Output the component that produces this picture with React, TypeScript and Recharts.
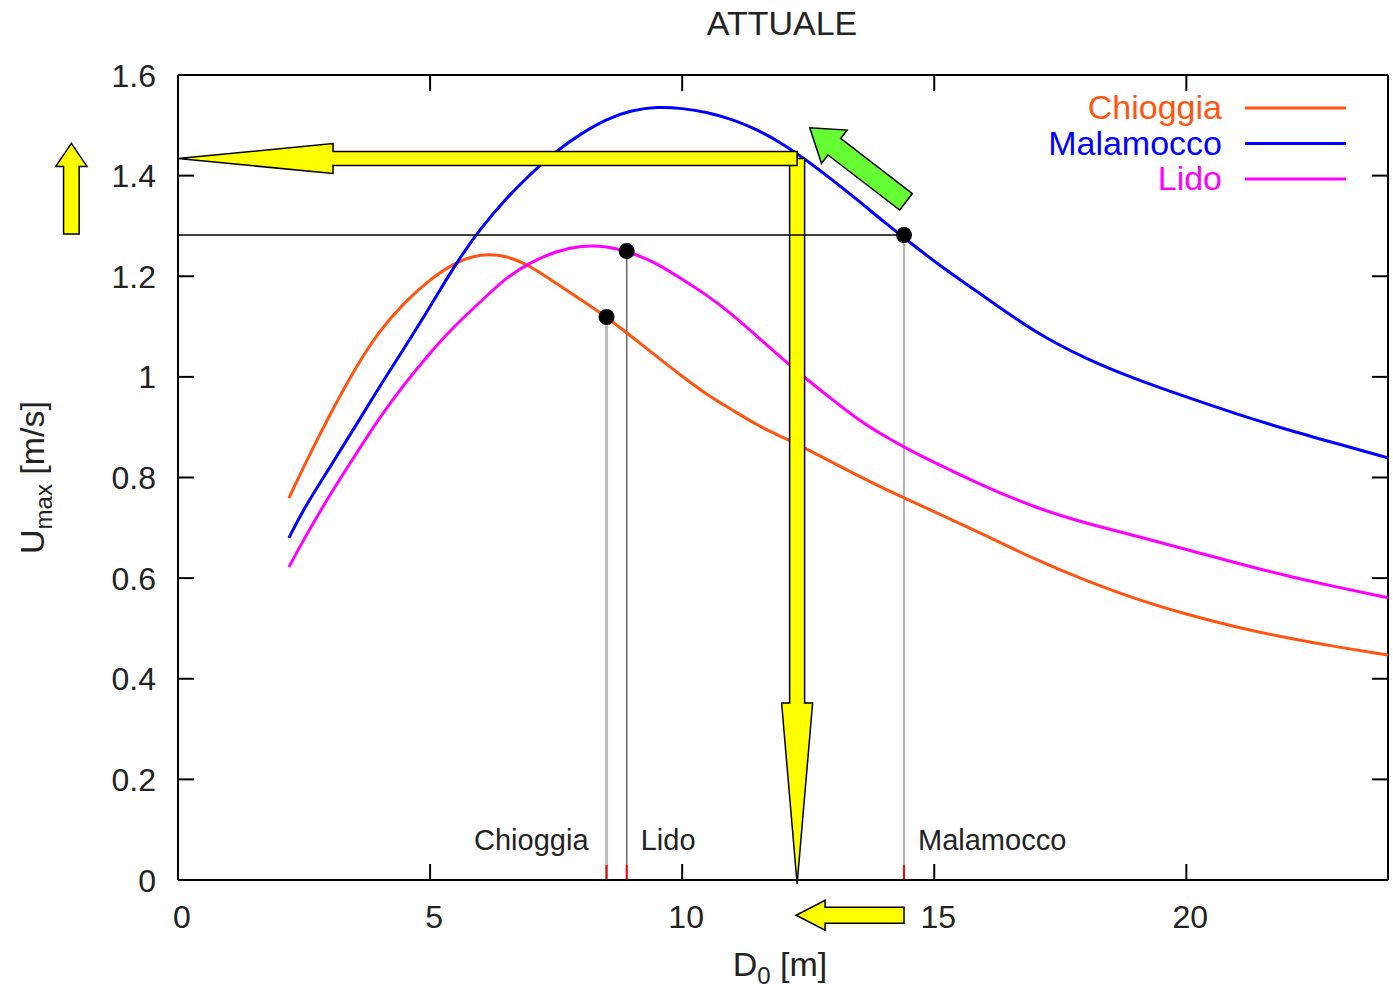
import React from 'react';
import { LineChart, Line, XAxis, YAxis, ReferenceLine, ReferenceDot, Legend } from 'recharts';

// D0 [m] sampling grid and the three Umax curves [m/s]
const D0 = [2.2, 2.5, 3, 3.5, 4, 4.5, 5, 5.5, 6, 6.5, 7, 7.5, 8, 8.5, 9, 9.5, 10, 10.5, 11, 11.5, 12, 12.5, 13, 13.5, 14, 14.5, 15, 16, 17, 18, 19, 20, 21, 22, 23, 24];
const chioggia = [0.759, 0.823, 0.923, 1.015, 1.093, 1.149, 1.194, 1.228, 1.245, 1.242, 1.22, 1.186, 1.153, 1.119, 1.08, 1.04, 1.001, 0.964, 0.934, 0.903, 0.88, 0.855, 0.829, 0.803, 0.778, 0.755, 0.732, 0.686, 0.637, 0.595, 0.558, 0.528, 0.502, 0.481, 0.463, 0.447];
const malamocco = [0.68, 0.739, 0.818, 0.899, 0.981, 1.059, 1.139, 1.224, 1.295, 1.354, 1.404, 1.449, 1.484, 1.513, 1.53, 1.537, 1.534, 1.526, 1.512, 1.491, 1.463, 1.428, 1.39, 1.35, 1.308, 1.269, 1.229, 1.159, 1.088, 1.036, 0.995, 0.96, 0.926, 0.895, 0.867, 0.839];
const lido = [0.622, 0.678, 0.764, 0.842, 0.92, 0.987, 1.048, 1.103, 1.149, 1.197, 1.228, 1.25, 1.261, 1.26, 1.247, 1.226, 1.194, 1.162, 1.124, 1.079, 1.035, 0.993, 0.953, 0.914, 0.883, 0.855, 0.83, 0.782, 0.74, 0.709, 0.684, 0.657, 0.63, 0.604, 0.582, 0.561];

const legendOrder = ['Chioggia', 'Malamocco', 'Lido'];

// current depth of each inlet and its Umax
const stationNames = ['Chioggia', 'Lido', 'Malamocco'];
const stationD0 = [8.5, 8.9, 14.4];
const stationU = [1.119, 1.25, 1.282];
const stationStroke = ['#bdbdbd', '#666', '#999'];
const stationStrokeW = [3, 1.5, 1.5];

const xTicks = [0, 5, 10, 15, 20];
const yTicks = [0, 0.2, 0.4, 0.6, 0.8, 1, 1.2, 1.4, 1.6];

// reading arrows (data units)
const readD0 = 12.28;
const readU = 1.434;

const data = D0.map((d, i) => ({ d, chioggia: chioggia[i], malamocco: malamocco[i], lido: lido[i] }));

const FONT = '"Liberation Sans", Arial, Helvetica, sans-serif';
const TXT = '#222';
const PLOT_W = 1210;
const PLOT_H = 805;
const TICK = 16;

const XTick = ({ x, y, payload }: any) => (
  <g>
    <line x1={x} y1={y} x2={x} y2={y - TICK} stroke="#000" strokeWidth={2} />
    <line x1={x} y1={y - PLOT_H} x2={x} y2={y - PLOT_H + TICK} stroke="#000" strokeWidth={2} />
    <text x={x + 4} y={y + 48} textAnchor="middle" fontFamily={FONT} fontSize={32} fill={TXT}>
      {payload.value}
    </text>
  </g>
);

const YTick = ({ x, y, payload }: any) => (
  <g>
    <line x1={x} y1={y} x2={x + TICK} y2={y} stroke="#000" strokeWidth={2} />
    <line x1={x + PLOT_W} y1={y} x2={x + PLOT_W - TICK} y2={y} stroke="#000" strokeWidth={2} />
    <text x={x - 22} y={y + 11.5} textAnchor="end" fontFamily={FONT} fontSize={32} fill={TXT}>
      {payload.value}
    </text>
  </g>
);

const arrowShape = (shaft: number, head: number, headLen: number, fill: string) => (p: any) => {
  const { x1, y1, x2, y2 } = p;
  const dx = x2 - x1;
  const dy = y2 - y1;
  const len = Math.hypot(dx, dy) || 1;
  const ux = dx / len;
  const uy = dy / len;
  const nx = -uy;
  const ny = ux;
  const bx = x2 - ux * headLen;
  const by = y2 - uy * headLen;
  const pts = [
    [x1 + nx * shaft, y1 + ny * shaft],
    [bx + nx * shaft, by + ny * shaft],
    [bx + nx * head, by + ny * head],
    [x2, y2],
    [bx - nx * head, by - ny * head],
    [bx - nx * shaft, by - ny * shaft],
    [x1 - nx * shaft, y1 - ny * shaft],
  ];
  return (
    <polygon
      points={pts.map((q) => q.join(',')).join(' ')}
      fill={fill}
      stroke="#000"
      strokeWidth={1.5}
      strokeLinejoin="miter"
    />
  );
};

const stationShape = (i: number) => (p: any) => {
  const { x1, y1, x2, y2 } = p;
  const bottom = Math.max(y1, y2);
  const left = i === 0;
  return (
    <g>
      <line x1={x1} y1={y1} x2={x2} y2={y2} stroke={stationStroke[i]} strokeWidth={stationStrokeW[i]} />
      <text
        x={left ? x1 - 18 : x1 + 14}
        y={bottom - 30}
        textAnchor={left ? 'end' : 'start'}
        fontFamily={FONT}
        fontSize={29}
        fill={TXT}
      >
        {stationNames[i]}
      </text>
    </g>
  );
};

const renderLegend = (props: any) => {
  const items = [...(props.payload || [])].sort(
    (a: any, b: any) => legendOrder.indexOf(a.value) - legendOrder.indexOf(b.value)
  );
  return (
    <svg width={400} height={150} style={{ overflow: 'visible' }}>
      {items.map((it: any, i: number) => {
        const y = 38 + 35.5 * i;
        return (
          <g key={it.value}>
            <text x={222} y={y + 11} textAnchor="end" fontFamily={FONT} fontSize={34} fill={it.color}>
              {it.value}
            </text>
            <line x1={245} y1={y} x2={346} y2={y} stroke={it.color} strokeWidth={3} />
          </g>
        );
      })}
    </svg>
  );
};

const XLabel = ({ viewBox }: any) => {
  const cx = viewBox.x + viewBox.width / 2 - 3;
  return (
    <text x={cx} y={viewBox.y + 96} textAnchor="middle" fontFamily={FONT} fontSize={34} fill={TXT}>
      D<tspan dy={8} fontSize={24}>0</tspan>
      <tspan dy={-8}> [m]</tspan>
    </text>
  );
};

const YLabel = ({ viewBox }: any) => {
  const x = viewBox.x + 44;
  const y = viewBox.y + viewBox.height / 2;
  return (
    <text
      x={x}
      y={y}
      transform={`rotate(-90, ${x}, ${y})`}
      textAnchor="middle"
      fontFamily={FONT}
      fontSize={34}
      fill={TXT}
    >
      U<tspan dy={8} fontSize={24}>max</tspan>
      <tspan dy={-8}> [m/s]</tspan>
    </text>
  );
};

export default function App() {
  return (
    <div style={{ position: 'absolute', left: 0, top: 0, width: 1393, height: 990, background: '#fff' }}>
      <LineChart width={1393} height={990} data={data} margin={{ top: 75, right: 5, bottom: 0, left: 0 }}>
        <XAxis
          type="number"
          dataKey="d"
          domain={[0, 24]}
          ticks={xTicks}
          interval={0}
          tickSize={0}
          tickMargin={0}
          tickLine={false}
          height={110}
          axisLine={{ stroke: '#000', strokeWidth: 2 }}
          tick={(p: any) => <XTick {...p} />}
          label={<XLabel />}
        />
        <YAxis
          type="number"
          domain={[0, 1.6]}
          ticks={yTicks}
          interval={0}
          tickSize={0}
          tickMargin={0}
          tickLine={false}
          width={178}
          axisLine={{ stroke: '#000', strokeWidth: 2 }}
          tick={(p: any) => <YTick {...p} />}
          label={<YLabel />}
        />
        <ReferenceLine y={1.6} stroke="#000" strokeWidth={2} />
        <ReferenceLine x={24} stroke="#000" strokeWidth={2} />

        {stationNames.map((n, i) => (
          <ReferenceLine
            key={n}
            segment={[{ x: stationD0[i], y: 0 }, { x: stationD0[i], y: stationU[i] }]}
            shape={stationShape(i)}
          />
        ))}

        <Legend
          layout="horizontal"
          align="center"
          verticalAlign="middle"
          content={renderLegend}
          wrapperStyle={{ position: 'absolute', left: 1000, top: 70, width: 400, height: 150 }}
        />

        <Line type="basis" dataKey="chioggia" name="Chioggia" stroke="#ff5511" strokeWidth={3} dot={false} isAnimationActive={false} />
        <Line type="basis" dataKey="malamocco" name="Malamocco" stroke="#0000ff" strokeWidth={3} dot={false} isAnimationActive={false} />
        <Line type="basis" dataKey="lido" name="Lido" stroke="#ff00ff" strokeWidth={3} dot={false} isAnimationActive={false} />

        {stationNames.map((n, i) => (
          <ReferenceLine
            key={n + '-red'}
            segment={[{ x: stationD0[i], y: 0 }, { x: stationD0[i], y: 0.03 }]}
            stroke="#ff0000"
            strokeWidth={2}
          />
        ))}

        <ReferenceLine
          ifOverflow="visible"
          segment={[{ x: readD0, y: readU }, { x: readD0, y: -0.008 }]}
          shape={arrowShape(7.5, 15.5, 181, '#ffff00')}
        />
        <ReferenceLine
          ifOverflow="visible"
          segment={[{ x: readD0, y: readU }, { x: 0, y: readU }]}
          shape={arrowShape(7, 15, 155, '#ffff00')}
        />
        <ReferenceLine
          ifOverflow="visible"
          segment={[{ x: -2.115, y: 1.284 }, { x: -2.115, y: 1.464 }]}
          shape={arrowShape(7.8, 15.6, 23, '#ffff00')}
        />
        <ReferenceLine
          ifOverflow="visible"
          segment={[{ x: 14.4, y: -0.07 }, { x: 12.26, y: -0.07 }]}
          shape={arrowShape(8, 15, 29, '#ffff00')}
        />
        <ReferenceLine
          ifOverflow="visible"
          segment={[{ x: 14.44, y: 1.348 }, { x: 12.53, y: 1.495 }]}
          shape={arrowShape(10.4, 21, 31, '#66ff33')}
        />

        <ReferenceLine
          segment={[{ x: 0, y: stationU[2] }, { x: stationD0[2], y: stationU[2] }]}
          stroke="#000"
          strokeWidth={1.5}
        />

        {stationNames.map((n, i) => (
          <ReferenceDot key={n + '-dot'} x={stationD0[i]} y={stationU[i]} r={8} fill="#000" stroke="none" />
        ))}
      </LineChart>
      <svg width={1393} height={60} style={{ position: 'absolute', left: 0, top: 0, pointerEvents: 'none' }}>
        <text x={782} y={35} textAnchor="middle" fontFamily={FONT} fontSize={34} fill={TXT}>
          ATTUALE
        </text>
      </svg>
    </div>
  );
}
